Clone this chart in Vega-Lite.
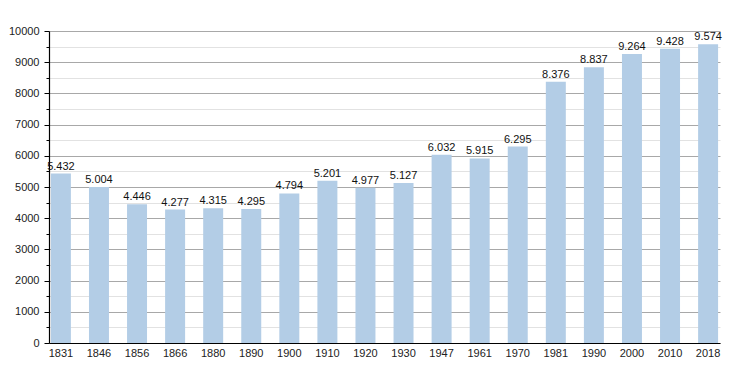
{
  "$schema": "https://vega.github.io/schema/vega-lite/v6.json",
  "width": 671,
  "height": 312,
  "autosize": {"type": "none"},
  "padding": {"left": 49, "top": 31, "right": 30, "bottom": 30},
  "background": "white",
  "config": {
    "view": {"stroke": null},
    "font": "Liberation Sans",
    "locale": {"number": {"decimal": ",", "thousands": ".", "grouping": [3], "currency": ["", " €"]}}
  },
  "data": {
    "values": [
      {"year": "1831", "pop": 5432},
      {"year": "1846", "pop": 5004},
      {"year": "1856", "pop": 4446},
      {"year": "1866", "pop": 4277},
      {"year": "1880", "pop": 4315},
      {"year": "1890", "pop": 4295},
      {"year": "1900", "pop": 4794},
      {"year": "1910", "pop": 5201},
      {"year": "1920", "pop": 4977},
      {"year": "1930", "pop": 5127},
      {"year": "1947", "pop": 6032},
      {"year": "1961", "pop": 5915},
      {"year": "1970", "pop": 6295},
      {"year": "1981", "pop": 8376},
      {"year": "1990", "pop": 8837},
      {"year": "2000", "pop": 9264},
      {"year": "2010", "pop": 9428},
      {"year": "2018", "pop": 9574}
    ]
  },
  "encoding": {
    "x": {
      "field": "year", "type": "ordinal", "sort": null,
      "scale": {"paddingInner": 0.475, "paddingOuter": 0.05},
      "axis": {
        "title": null, "labelAngle": 0, "ticks": false, "labelPadding": 4,
        "domainColor": "#000", "domainWidth": 1.2, "labelFontSize": 11, "labelColor": "#222"
      }
    },
    "y": {
      "field": "pop", "type": "quantitative",
      "scale": {"domain": [0, 10000], "nice": false},
      "axis": {
        "title": null,
        "values": [0,500,1000,1500,2000,2500,3000,3500,4000,4500,5000,5500,6000,6500,7000,7500,8000,8500,9000,9500,10000],
        "format": "d",
        "labelExpr": "datum.value % 1000 === 0 ? datum.label : ''",
        "grid": true,
        "gridColor": {"condition": {"test": "datum.value % 1000 === 0", "value": "#a8a8a8"}, "value": "#e2e2e2"},
        "tickSize": {"condition": {"test": "datum.value % 1000 === 0", "value": 5}, "value": 3},
        "tickColor": "#000",
        "domainColor": "#000", "domainWidth": 1.2,
        "labelFontSize": 11, "labelColor": "#222", "labelPadding": 5
      }
    }
  },
  "layer": [
    {"mark": {"type": "bar", "color": "#b3cde6"}},
    {
      "mark": {"type": "text", "dy": -7, "fontSize": 11, "color": "#111"},
      "encoding": {"text": {"field": "pop", "type": "quantitative", "format": ",d"}}
    }
  ]
}
